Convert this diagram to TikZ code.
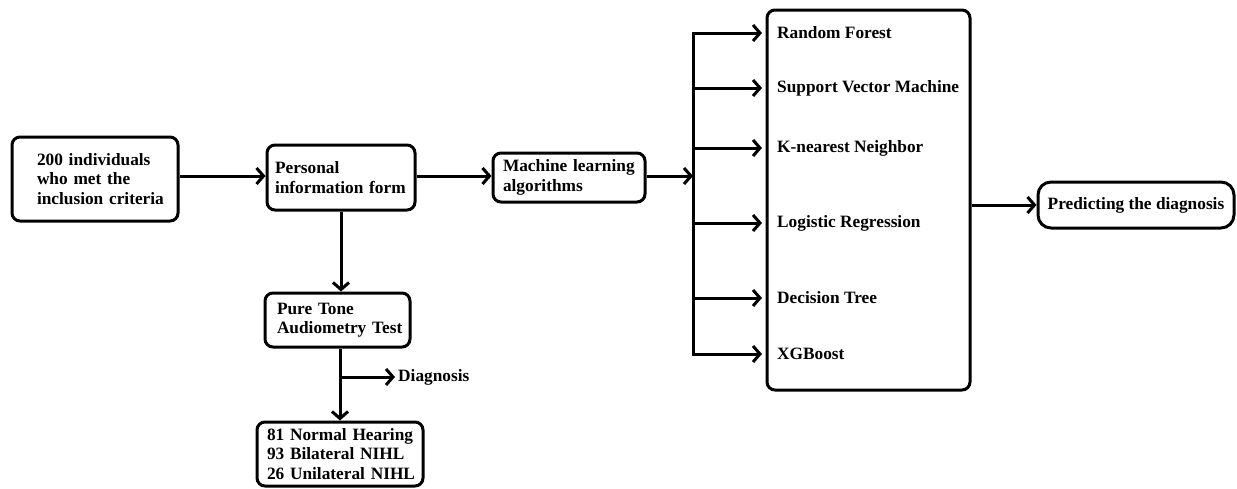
\documentclass[tikz,border=0pt]{standalone}
\usepackage{fontspec}
\setmainfont{Liberation Serif}
\usetikzlibrary{arrows.meta}
\begin{document}
\hyphenpenalty=10000 \exhyphenpenalty=10000
\begin{tikzpicture}[x=1pt,y=-1pt,
  box/.style={draw, line width=3pt, rounded corners=8pt, align=left, inner ysep=0pt},
  txt/.style={font=\bfseries\fontsize{17.3}{19.5}\selectfont},
  arr/.style={line width=3pt, -{Straight Barb[length=7pt,width=16pt]}},
  ln/.style={line width=3pt}]
\useasboundingbox (0,0) rectangle (1237,488);
% boxes
\node[box, txt, minimum width=166, minimum height=84, text width=116, inner xsep=25] (A) at (95,179)
  {200~individuals\\who~met~the\\inclusion~criteria};
\node[box, txt, minimum width=148, minimum height=65, text width=132, inner xsep=8] (B) at (341,177.5)
  {Personal\\information~form};
\node[box, txt, minimum width=152, minimum height=49, text width=132, inner xsep=10] (C) at (569,177.5)
  {Machine~learning\\algorithms};
\node[box, txt, minimum width=145, minimum height=54, text width=121, inner xsep=12] (F) at (337.5,320)
  {Pure~Tone\\Audiometry~Test};
\node[box, txt, minimum width=166, minimum height=64, text width=146, inner xsep=10] (G) at (340,454)
  {81~Normal~Hearing\\93~Bilateral~NIHL\\26~Unilateral~NIHL};
\node[box, minimum width=203, minimum height=380] (D) at (868.5,200) {};
\node[box, txt, rounded corners=13pt, minimum width=196, minimum height=46, align=center] (E) at (1136,205)
  {Predicting the diagnosis};
% algorithm items
\node[txt, anchor=west, inner xsep=15pt] (i1) at (762,33) {Random Forest};
\node[txt, anchor=west, inner xsep=15pt] (i2) at (762,88) {Support Vector Machine};
\node[txt, anchor=west, inner xsep=15pt] (i3) at (762,148) {K-nearest Neighbor};
\node[txt, anchor=west, inner xsep=15pt] (i4) at (762,223) {Logistic Regression};
\node[txt, anchor=west, inner xsep=15pt] (i5) at (762,298) {Decision Tree};
\node[txt, anchor=west, inner xsep=15pt] (i6) at (762,354) {XGBoost};
% bus
\coordinate (bt) at (693,33);
\coordinate (bb) at (693,354);
\draw[ln, line cap=rect] (bt) -- (bb);
\foreach \i in {i1,i2,i3,i4,i5,i6}{\draw[arr] (\i.west -| bt) -- (\i.west);}
% connectors
\draw[arr] (A.east |- 0,176) -- (B.west |- 0,176);
\draw[arr] (B.east |- 0,176) -- (C.west |- 0,176);
\draw[arr] (C.east |- 0,176) -- (bt |- 0,176);
\draw[arr] (D.east |- E.west) -- (E.west);
\draw[arr] (B.south) -- (B.south |- F.north);
\coordinate (br) at (340,377);
\draw[arr] (F.south -| br) -- (G.north -| br);
\node[txt, anchor=west, inner xsep=3pt] (dg) at (395,377) {Diagnosis};
\draw[arr] (br) -- (dg.west);
\end{tikzpicture}
\end{document}
